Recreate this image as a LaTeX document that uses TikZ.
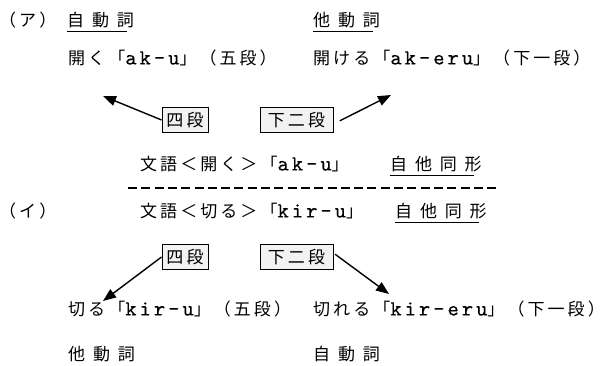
\documentclass[tikz,border=0pt]{standalone}
\usepackage{fontspec}
\usetikzlibrary{arrows.meta}
\newfontfamily\jp[LetterSpace=18]{Noto Sans CJK JP}
\newfontfamily\jpw[LetterSpace=46]{Noto Sans CJK JP}
\newfontfamily\latf{lmmono10-regular.otf}[LetterSpace=14,FakeBold=0.3]
\newcommand\lat[1]{{\latf\fontsize{21.5}{21.5}\selectfont #1}}
\begin{document}
\begin{tikzpicture}[x=1pt,y=-1pt,
  txt/.style={font=\jp\fontsize{17}{17}\selectfont, inner sep=0pt, anchor=west},
  wide/.style={font=\jpw\fontsize{17}{17}\selectfont, inner sep=0pt, anchor=west},
  dan/.style={font=\jp\fontsize{17}{17}\selectfont, draw, line width=0.9pt, fill=gray!10, inner sep=0pt, minimum height=25pt},
  arr/.style={-{Triangle[length=13pt,width=10pt]}, line width=1.4pt},
  ul/.style={line width=1.1pt}]
\useasboundingbox (0,0) rectangle (615,366);
% (a)
\node[txt] (a) at (-1,20) {（ア）};
\node[wide] (jd1) at (67,20) {自動詞};
\node[wide] (td1) at (313,20) {他動詞};
\draw[ul] ([yshift=-5pt]jd1.base west) -- ([yshift=-5pt,xshift=-7.5pt]jd1.base east);
\draw[ul] ([yshift=-5pt]td1.base west) -- ([yshift=-5pt,xshift=-7.5pt]td1.base east);
\node[txt] (ak1) at (68,58) {開く「\lat{ak-u}」（五段）};
\node[txt] (ak2) at (313,58) {開ける「\lat{ak-eru}」（下一段）};
\node[dan, minimum width=46pt] (s1) at (185,120) {四段};
\node[dan, minimum width=73pt] (k1) at (296.5,120) {下二段};
\coordinate (t1) at (103,96);
\coordinate (t2) at (391,95);
\draw[arr] (s1.west) -- (t1);
\draw[arr, shorten <=7pt] ([yshift=-4pt]k1.east) -- (t2);
\node[txt] (bg1) at (140,164) {文語＜開く＞「\lat{ak-u}」};
\node[wide] (jt1) at (390,164) {自他同形};
\draw[ul] ([yshift=-5pt]jt1.base west) -- ([yshift=-5pt,xshift=-7.5pt]jt1.base east);
\coordinate (d1) at (128,188);
\coordinate (d2) at (500,188);
\draw[line width=1.8pt, dash pattern=on 9pt off 4.3pt] (d1) -- (d2);
% (i)
\node[txt] (i) at (-1,211) {（イ）};
\node[txt] (bg2) at (140,211) {文語＜切る＞「\lat{kir-u}」};
\node[wide] (jt2) at (395,211) {自他同形};
\draw[ul] ([yshift=-5pt]jt2.base west) -- ([yshift=-5pt,xshift=-7.5pt]jt2.base east);
\node[dan, minimum width=46pt] (s2) at (185,257) {四段};
\node[dan, minimum width=73pt] (k2) at (296.5,257) {下二段};
\coordinate (t3) at (103,301);
\coordinate (t4) at (389,294);
\draw[arr] (s2.west) -- (t3);
\draw[arr, shorten <=2pt] ([yshift=4pt]k2.east) -- (t4);
\node[txt] (kr1) at (68,309) {切る「\lat{kir-u}」（五段）};
\node[txt] (kr2) at (313,309) {切れる「\lat{kir-eru}」（下一段）};
\node[wide] (td2) at (68,354) {他動詞};
\node[wide] (jd2) at (313,354) {自動詞};
\end{tikzpicture}
\end{document}
